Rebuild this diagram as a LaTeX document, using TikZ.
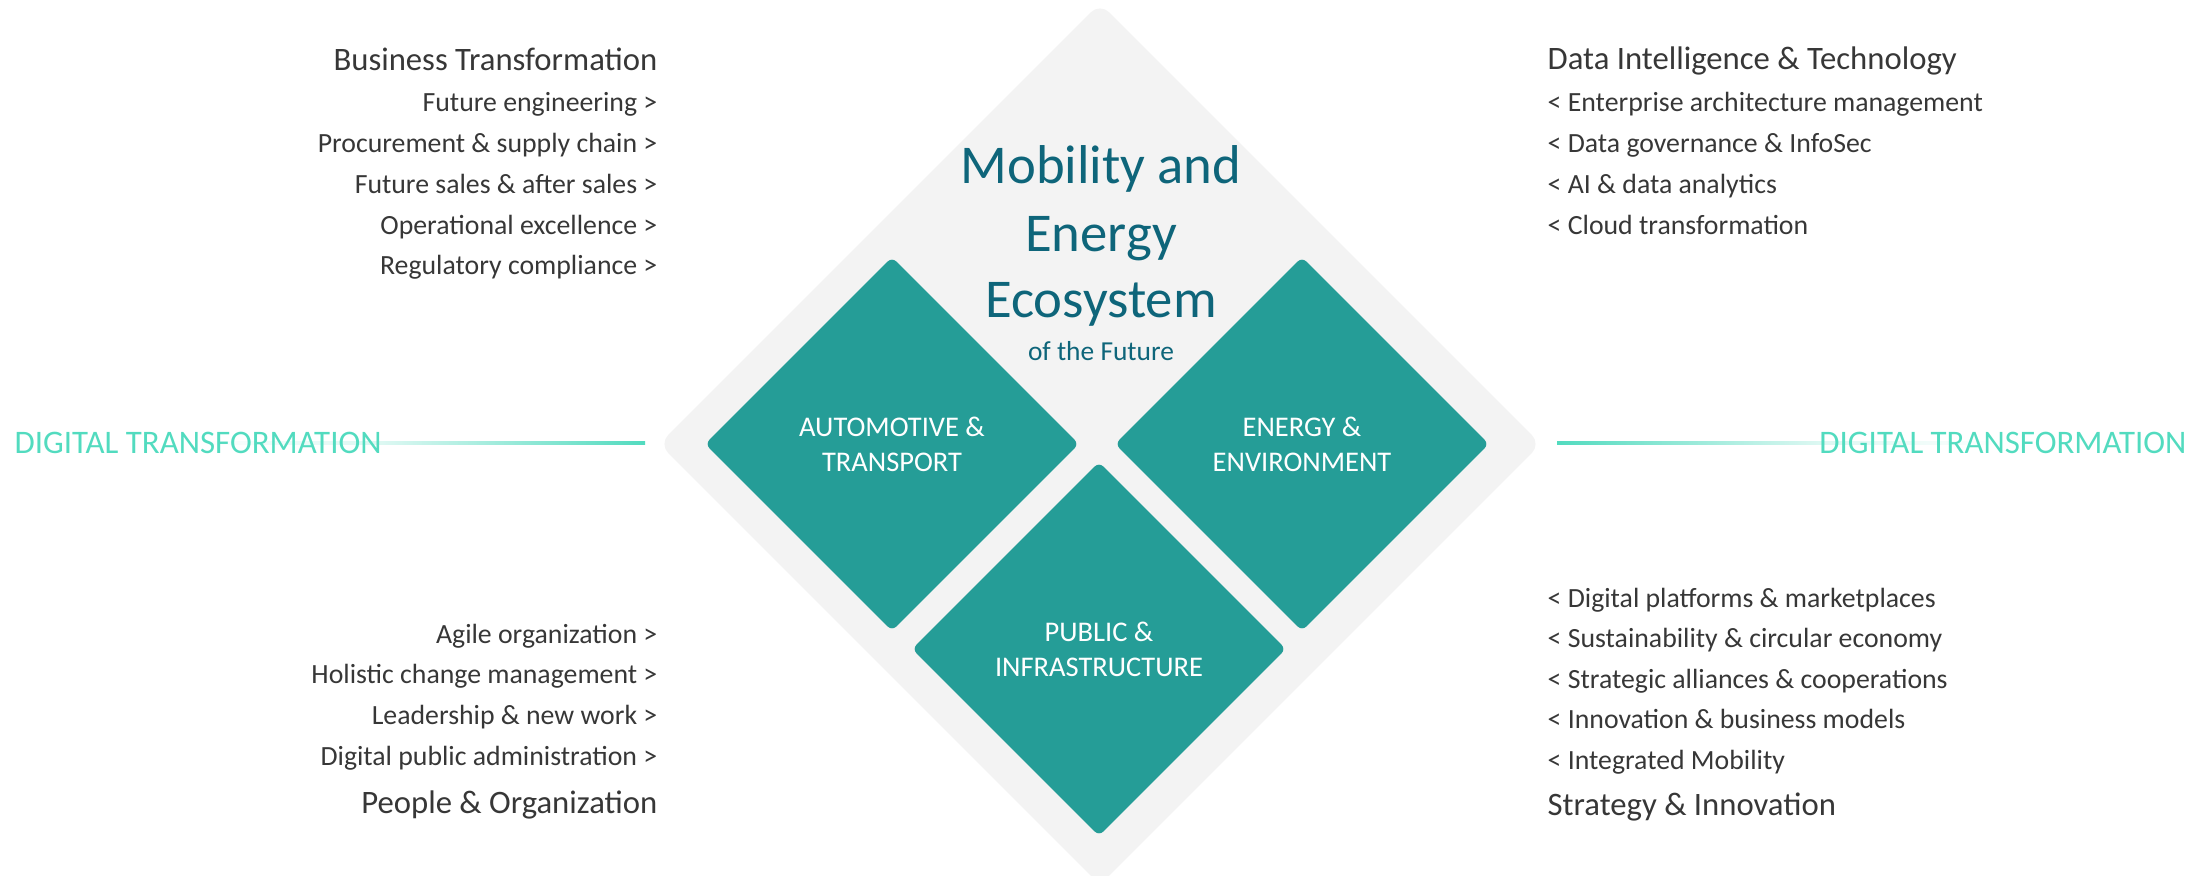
\documentclass[tikz,border=0pt]{standalone}
\usepackage{fontspec}
\setmainfont{Carlito}
\usetikzlibrary{shapes.geometric,calc,backgrounds}

\definecolor{ecogray}{RGB}{243,243,243}
\definecolor{areateal}{RGB}{37,157,151}
\definecolor{ttlblue}{RGB}{14,101,122}
\definecolor{dtgreen}{RGB}{82,219,191}
\definecolor{listgray}{RGB}{55,55,55}

\begin{document}
\begin{tikzpicture}[x=0.01cm,y=-0.01cm]
	\tikzstyle{every node}=[inner sep=0pt]
	\tikzstyle{ecobox}=[diamond,aspect=1,fill=ecogray,minimum size=8.82cm,rounded corners=0.13cm]
	\tikzstyle{areabox}=[diamond,aspect=1,fill=areateal,minimum size=3.74cm,rounded corners=0.06cm,
		text=white,align=center,font=\fontsize{8.1pt}{9.96pt}\selectfont]
	\tikzstyle{head}=[text=listgray,font=\fontsize{9.3pt}{11pt}\selectfont]
	\tikzstyle{item}=[text=listgray,font=\fontsize{7.9pt}{9.5pt}\selectfont]
	\tikzstyle{dtlabel}=[text=dtgreen,font=\fontsize{9.35pt}{11pt}\selectfont]
	\tikzstyle{ttl}=[text=ttlblue,anchor=base,font=\fontsize{15.55pt}{19pt}\selectfont]

	\useasboundingbox (0,0) rectangle (2199,875);
	\clip (0,0) rectangle (2199,875);

	% ecosystem and the three areas
	\node[ecobox] (eco) at (1100,444) {};
	\node[areabox] (auto) at (892,444) {AUTOMOTIVE \&\\TRANSPORT};
	\node[areabox] (energy) at (1302,444) {ENERGY \&\\ENVIRONMENT};
	\node[areabox] (public) at (1099,649) {PUBLIC \&\\INFRASTRUCTURE};

	\node[ttl] (ttl1) at (1101,183) {Mobility and};
	\node[ttl] (ttl2) at (1101,251) {Energy};
	\node[ttl] (ttl3) at (1101,317) {Ecosystem};
	\node[ttl,font=\fontsize{7.8pt}{9pt}\selectfont] (ttl4) at (1101,360) {of the Future};

	% digital transformation on both sides
	\node[dtlabel,anchor=west] (dtl) at (14,443) {DIGITAL TRANSFORMATION};
	\node[dtlabel,anchor=east] (dtr) at (2187,443) {DIGITAL TRANSFORMATION};
	\coordinate (lend) at (645,443);
	\coordinate (rstart) at (1557,443);
	\begin{pgfonlayer}{background}
		\shade[left color=white,right color=dtgreen!20] ($(dtl.center)+(0,-1.5)$) rectangle ($(dtl.east)+(0,1.5)$);
		\shade[left color=dtgreen!20,right color=dtgreen] ($(dtl.east)+(0,-1.5)$) rectangle ($(lend)+(0,1.5)$);
		\shade[left color=dtgreen,right color=dtgreen!20] ($(rstart)+(0,-1.5)$) rectangle ($(dtr.west)+(0,1.5)$);
		\shade[left color=dtgreen!20,right color=white] ($(dtr.west)+(0,-1.5)$) rectangle ($(dtr.center)+(0,1.5)$);
	\end{pgfonlayer}

	% business transformation
	\node[head,anchor=base east] (bt) at (658,70) {Business Transformation};
	\foreach \txt [count=\i] in {Future engineering >,Procurement \& supply chain >,
		Future sales \& after sales >,Operational excellence >,Regulatory compliance >}
		\node[item,anchor=base east] (bt\i) at (658,{71+40.75*\i}) {\txt};

	% people and organization
	\foreach \txt [count=\i] in {Agile organization >,Holistic change management >,
		Leadership \& new work >,Digital public administration >}
		\node[item,anchor=base east] (po\i) at (658,{602.3+40.7*\i}) {\txt};
	\node[head,anchor=base east] (po) at (658,813) {People \& Organization};

	% data intelligence
	\node[head,anchor=base west] (dit) at (1547,69) {Data Intelligence \& Technology};
	\foreach \txt [count=\i] in {< Enterprise architecture management,< Data governance \& InfoSec,
		< AI \& data analytics,< Cloud transformation}
		\node[item,anchor=base west] (dit\i) at (1547,{71+40.75*\i}) {\txt};

	% strategy and innovation
	\foreach \txt [count=\i] in {< Digital platforms \& marketplaces,< Sustainability \& circular economy,
		< Strategic alliances \& cooperations,< Innovation \& business models,< Integrated Mobility}
		\node[item,anchor=base west] (si\i) at (1547,{566.5+40.5*\i}) {\txt};
	\node[head,anchor=base west] (si) at (1547,815) {Strategy \& Innovation};
\end{tikzpicture}
\end{document}
